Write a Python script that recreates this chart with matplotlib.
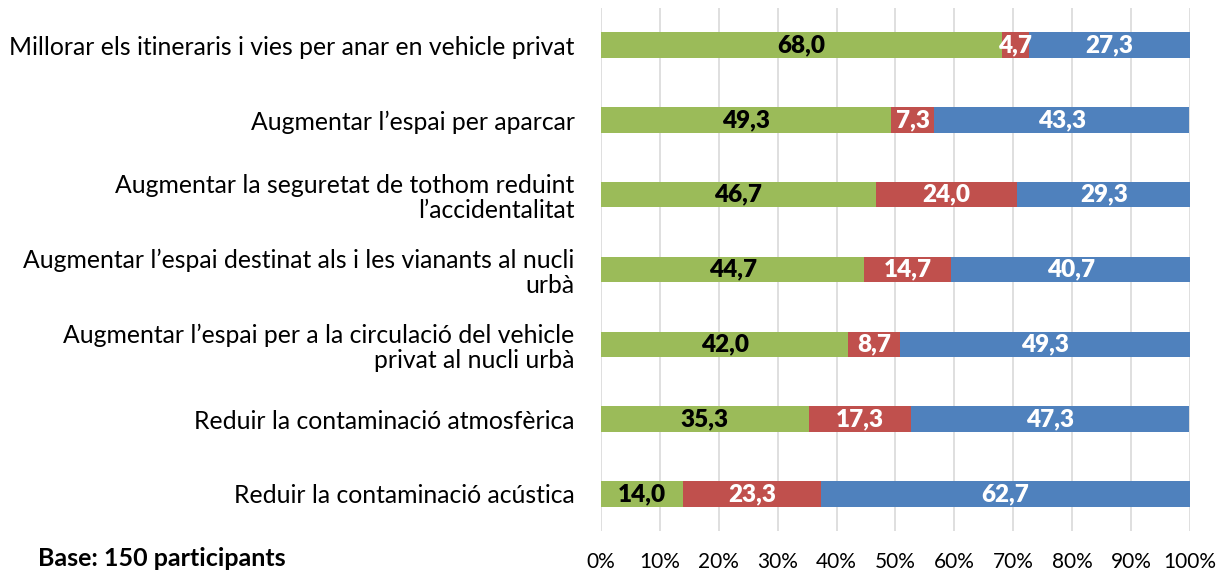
import matplotlib
matplotlib.use("Agg")
import matplotlib.pyplot as plt
from matplotlib.ticker import PercentFormatter

plt.rcParams['font.family'] = ['Lato', 'DejaVu Sans']

categories = [
    "Millorar els itineraris i vies per anar en vehicle privat",
    "Augmentar l\u2019espai per aparcar",
    "Augmentar la seguretat de tothom reduint\nl\u2019accidentalitat",
    "Augmentar l\u2019espai destinat als i les vianants al nucli\nurb\u00e0",
    "Augmentar l\u2019espai per a la circulaci\u00f3 del vehicle\nprivat al nucli urb\u00e0",
    "Reduir la contaminaci\u00f3 atmosf\u00e8rica",
    "Reduir la contaminaci\u00f3 ac\u00fastica",
]
green_vals = [68.0, 49.3, 46.7, 44.7, 42.0, 35.3, 14.0]
red_vals = [4.7, 7.3, 24.0, 14.7, 8.7, 17.3, 23.3]
blue_vals = [27.3, 43.3, 29.3, 40.7, 49.3, 47.3, 62.7]

series = [
    (green_vals, "#9BBB59", "black"),
    (red_vals, "#C0504D", "white"),
    (blue_vals, "#4F81BD", "white"),
]

fig = plt.figure(figsize=(12.19, 5.73), dpi=100)
ax = fig.add_axes([0.493, 0.0726, 0.4832, 0.914])

ypos = list(range(len(categories)))
left = [0.0] * len(categories)
for vals, col, txtcol in series:
    bars = ax.barh(ypos, vals, left=left, height=0.34, color=col, zorder=3)
    for b, v in zip(bars, vals):
        ax.text(b.get_x() + b.get_width() / 2, b.get_y() + b.get_height() / 2,
                ("%.1f" % v).replace(".", ","), ha="center", va="center",
                color=txtcol, fontsize=17.5, fontweight="heavy", zorder=4)
    left = [l + v for l, v in zip(left, vals)]

ax.set_xlim(0, 100)
ax.set_ylim(len(categories) - 0.5, -0.5)
ax.set_xticks(range(0, 101, 10))
ax.xaxis.set_major_formatter(PercentFormatter(decimals=0))
ax.set_yticks(ypos)
ax.set_yticklabels(categories, fontsize=17.8, linespacing=1.12)
ax.tick_params(axis="y", length=0, pad=19)
ax.tick_params(axis="x", length=0, pad=15, labelsize=15)
ax.grid(axis="x", color="#d9d9d9", linewidth=1.2, zorder=0)
for s in ax.spines.values():
    s.set_visible(False)

fig.text(0.031, 0.012, "Base: 150 participants", fontsize=18, fontweight="bold")

fig.savefig("out.png", dpi=100)
